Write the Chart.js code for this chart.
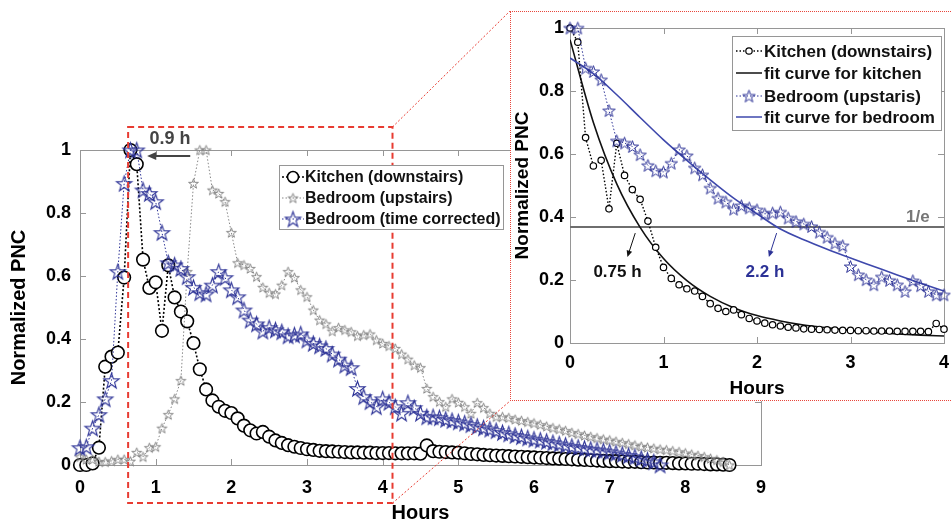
<!DOCTYPE html>
<html>
<head>
<meta charset="utf-8">
<script src="https://cdn.jsdelivr.net/npm/chart.js@4.4.1/dist/chart.umd.min.js"></script>
<style>
  html, body { margin: 0; padding: 0; background: #fff; }
  #wrap { position: relative; width: 951px; height: 523px; overflow: hidden; }
  #main { position: absolute; left: 0; top: 0; }
  #insetBox { position: absolute; left: 510px; top: 11px; width: 441px; height: 390px; box-sizing: border-box;
              background: #fff; border: 1px dotted #e8463c; border-right: none; }
  #inset { position: absolute; left: 0; top: 0; }
</style>
</head>
<body>
<div id="wrap">
  <canvas id="main" width="951" height="523"></canvas>
  <div id="insetBox"><canvas id="inset" width="440" height="388"></canvas></div>
</div>
<script>
// sampling: one value every 5 minutes
const SAMPLE_MIN = 5;
const SHIFT_STEPS = 11;       // bedroom lag, 0.9 h
const KITCHEN_PEAK_IDX = 8;   // inset starts at each peak
const BEDROOM_PEAK_IDX = 19;
const INSET_STEPS = 49;       // 0..4 h in the inset

const kitchenPNC = [
  0.000, 0.000, 0.005, 0.055, 0.312, 0.344, 0.357, 0.595, 1.000, 0.955,
  0.652, 0.562, 0.580, 0.426, 0.634, 0.532, 0.487, 0.456, 0.387, 0.304,
  0.240, 0.205, 0.185, 0.172, 0.165, 0.148, 0.125, 0.110, 0.100, 0.105,
  0.090, 0.078, 0.070, 0.063, 0.058, 0.054, 0.050, 0.048, 0.045, 0.044,
  0.043, 0.042, 0.041, 0.040, 0.040, 0.039, 0.039, 0.038, 0.038, 0.038,
  0.037, 0.037, 0.037, 0.037, 0.036, 0.062, 0.044, 0.042, 0.041, 0.040,
  0.039, 0.037, 0.035, 0.034, 0.032, 0.031, 0.030, 0.029, 0.028, 0.027,
  0.026, 0.025, 0.024, 0.023, 0.022, 0.021, 0.020, 0.019, 0.018, 0.017,
  0.016, 0.015, 0.014, 0.013, 0.012, 0.012, 0.011, 0.010, 0.010, 0.009,
  0.008, 0.008, 0.007, 0.007, 0.006, 0.005, 0.005, 0.004, 0.004, 0.003,
  0.002, 0.002, 0.001, 0.000
];
const bedroomPNC = [
  0.026, 0.018, 0.018, 0.011, 0.010, 0.013, 0.018, 0.018, 0.012, 0.040,
  0.026, 0.055, 0.058, 0.117, 0.160, 0.210, 0.268, 0.614, 0.894, 1.000,
  1.000, 0.873, 0.862, 0.836, 0.738, 0.642, 0.635, 0.624, 0.598, 0.564,
  0.547, 0.543, 0.571, 0.614, 0.595, 0.556, 0.534, 0.492, 0.460, 0.448,
  0.425, 0.436, 0.429, 0.423, 0.410, 0.413, 0.416, 0.397, 0.386, 0.378,
  0.370, 0.352, 0.336, 0.317, 0.309, 0.243, 0.217, 0.201, 0.185, 0.210,
  0.199, 0.185, 0.164, 0.198, 0.182, 0.164, 0.153, 0.153, 0.150, 0.145,
  0.141, 0.137, 0.133, 0.128, 0.123, 0.118, 0.114, 0.109, 0.103, 0.099,
  0.094, 0.090, 0.086, 0.082, 0.079, 0.075, 0.071, 0.067, 0.063, 0.059,
  0.056, 0.053, 0.050, 0.048, 0.045, 0.042, 0.038, 0.034, 0.030, 0.026,
  0.021, 0.016, 0.010, 0.000
];
// fitted decay curves
const fitHours = [0, 0.25, 0.5, 0.75, 1, 1.25, 1.5, 1.75, 2, 2.25, 2.5, 2.75, 3, 3.25, 3.5, 3.75, 4];
const kitchenFit = [0.963, 0.700, 0.505, 0.367, 0.268, 0.198, 0.148, 0.112, 0.087, 0.070, 0.057, 0.048, 0.040, 0.034, 0.029, 0.025, 0.022];
const bedroomFit = [0.905, 0.855, 0.788, 0.716, 0.645, 0.580, 0.518, 0.460, 0.410, 0.362, 0.328, 0.298, 0.270, 0.243, 0.216, 0.190, 0.165];
const mainXRange = [0, 9];
const insetXRange = [0, 4];
const yRange = [0, 1];

const BLUE = "rgb(44,50,150)";
const BLUE_FIT = "rgb(62,72,172)";
const GRAY = "rgb(135,135,135)";
const AXIS = "rgb(150,150,150)";
const RED = "rgb(232,60,50)";
const FONT = "'Liberation Sans', Arial, sans-serif";

const hr = (i) => (i * SAMPLE_MIN) / 60;
const toPts = (arr, start = 0) => arr.map((v, i) => ({ x: hr(i - start), y: v }));

const kitchenPts = toPts(kitchenPNC);
const bedroomPts = toPts(bedroomPNC);
const correctedPts = toPts(bedroomPNC.slice(SHIFT_STEPS));
const insetKitchen = toPts(kitchenPNC.slice(KITCHEN_PEAK_IDX, KITCHEN_PEAK_IDX + INSET_STEPS));
const insetBedroom = toPts(bedroomPNC.slice(BEDROOM_PEAK_IDX, BEDROOM_PEAK_IDX + INSET_STEPS));
const kitchenFitPts = fitHours.map((h, i) => ({ x: h, y: kitchenFit[i] }));
const bedroomFitPts = fitHours.map((h, i) => ({ x: h, y: bedroomFit[i] }));

function starImage(r, color, lw) {
  const size = Math.ceil(2 * r + 2 * lw + 2);
  const c = document.createElement("canvas");
  c.width = size;
  c.height = size;
  const g = c.getContext("2d");
  g.translate(size / 2, size / 2 + r * 0.1);
  g.beginPath();
  for (let k = 0; k < 10; k++) {
    const rr = k % 2 ? r * 0.4 : r;
    const a = -Math.PI / 2 + (k * Math.PI) / 5;
    g.lineTo(rr * Math.cos(a), rr * Math.sin(a));
  }
  g.closePath();
  g.strokeStyle = color;
  g.lineWidth = lw;
  g.stroke();
  return c;
}
const bigBlueStar = starImage(8, BLUE, 1.1);
const grayStar = starImage(5.2, GRAY, 1);
const insetStar = starImage(6.5, BLUE, 1);

function arrow(ctx, x1, y1, x2, y2, color, lw, head) {
  const a = Math.atan2(y2 - y1, x2 - x1);
  ctx.strokeStyle = color;
  ctx.fillStyle = color;
  ctx.lineWidth = lw;
  ctx.setLineDash([]);
  ctx.beginPath();
  ctx.moveTo(x1, y1);
  ctx.lineTo(x2 - head * 0.7 * Math.cos(a), y2 - head * 0.7 * Math.sin(a));
  ctx.stroke();
  ctx.beginPath();
  ctx.moveTo(x2, y2);
  ctx.lineTo(x2 - head * Math.cos(a - 0.42), y2 - head * Math.sin(a - 0.42));
  ctx.lineTo(x2 - head * Math.cos(a + 0.42), y2 - head * Math.sin(a + 0.42));
  ctx.closePath();
  ctx.fill();
}

// MATLAB style box with ticks pointing inward
const boxPlugin = {
  id: "box",
  beforeDatasetsDraw(chart) {
    const { ctx, chartArea: a, scales: { x, y } } = chart;
    ctx.save();
    ctx.strokeStyle = AXIS;
    ctx.lineWidth = 1;
    ctx.strokeRect(Math.round(a.left) + 0.5, Math.round(a.top) + 0.5, Math.round(a.right - a.left), Math.round(a.bottom - a.top));
    ctx.beginPath();
    x.ticks.forEach((t) => {
      const px = Math.round(x.getPixelForValue(t.value)) + 0.5;
      ctx.moveTo(px, a.bottom); ctx.lineTo(px, a.bottom - 6);
      ctx.moveTo(px, a.top); ctx.lineTo(px, a.top + 6);
    });
    y.ticks.forEach((t) => {
      const py = Math.round(y.getPixelForValue(t.value)) + 0.5;
      ctx.moveTo(a.left, py); ctx.lineTo(a.left + 6, py);
      ctx.moveTo(a.right, py); ctx.lineTo(a.right - 6, py);
    });
    ctx.stroke();
    ctx.restore();
  }
};

function drawLegend(ctx, box, rows, font) {
  ctx.save();
  ctx.fillStyle = "#fff";
  ctx.fillRect(box.x, box.y, box.w, box.h);
  ctx.strokeStyle = AXIS;
  ctx.lineWidth = 1;
  ctx.strokeRect(box.x + 0.5, box.y + 0.5, box.w, box.h);
  rows.forEach((r) => {
    ctx.strokeStyle = r.color;
    ctx.lineWidth = r.lw;
    ctx.setLineDash(r.dash);
    ctx.beginPath();
    ctx.moveTo(box.lineX0, r.y);
    ctx.lineTo(box.lineX1, r.y);
    ctx.stroke();
    ctx.setLineDash([]);
    const mx = (box.lineX0 + box.lineX1) / 2;
    if (r.circle) {
      ctx.fillStyle = "#fff";
      ctx.lineWidth = r.circle.lw;
      ctx.strokeStyle = r.color;
      ctx.beginPath();
      ctx.arc(mx, r.y, r.circle.r, 0, Math.PI * 2);
      ctx.fill();
      ctx.stroke();
    }
    if (r.img) ctx.drawImage(r.img, mx - r.img.width / 2, r.y - r.img.height / 2);
    ctx.fillStyle = "#111";
    ctx.font = font;
    ctx.textBaseline = "middle";
    ctx.textAlign = "left";
    ctx.fillText(r.text, box.textX, r.y + 1);
  });
  ctx.restore();
}

const mainDecor = {
  id: "mainDecor",
  afterDatasetsDraw(chart) {
    const { ctx, scales: { x, y } } = chart;
    ctx.save();
    // zoom rectangle
    const rx0 = x.getPixelForValue(0.636), rx1 = x.getPixelForValue(4.13);
    const ry0 = y.getPixelForValue(1.073), ry1 = y.getPixelForValue(-0.121);
    ctx.strokeStyle = RED;
    ctx.lineWidth = 2;
    ctx.setLineDash([6, 4]);
    ctx.strokeRect(rx0, ry0, rx1 - rx0, ry1 - ry0);
    ctx.lineWidth = 1;
    ctx.setLineDash([2, 2]);
    ctx.beginPath();
    ctx.moveTo(rx1, ry0); ctx.lineTo(510, 11);
    ctx.moveTo(rx1, ry1); ctx.lineTo(510, 401);
    ctx.stroke();
    // lag annotation
    arrow(ctx, x.getPixelForValue(1.457), y.getPixelForValue(0.981), x.getPixelForValue(0.887), y.getPixelForValue(0.981), "#444", 2, 10);
    ctx.fillStyle = "#444";
    ctx.font = "bold 18px " + FONT;
    ctx.textAlign = "center";
    ctx.textBaseline = "middle";
    ctx.fillText("0.9 h", x.getPixelForValue(1.19), y.getPixelForValue(1.035));
    ctx.restore();
    drawLegend(ctx, { x: 279, y: 165, w: 224, h: 64, lineX0: 282, lineX1: 304, textX: 305 }, [
      { y: 177, text: "Kitchen (downstairs)", color: "#000", lw: 1.5, dash: [2, 2], circle: { r: 5.5, lw: 1.6 } },
      { y: 198, text: "Bedroom (upstairs)", color: GRAY, lw: 1, dash: [1.5, 2], img: grayStar },
      { y: 219, text: "Bedroom (time corrected)", color: BLUE, lw: 1, dash: [1.5, 2], img: bigBlueStar }
    ], "bold 16px " + FONT);
  }
};

const insetDecor = {
  id: "insetDecor",
  afterDatasetsDraw(chart) {
    const { ctx, scales: { x, y } } = chart;
    ctx.save();
    ctx.font = "bold 17px " + FONT;
    ctx.textAlign = "center";
    ctx.textBaseline = "middle";
    ctx.fillStyle = "#777";
    ctx.fillText("1/e", x.getPixelForValue(3.72), y.getPixelForValue(0.4));
    ctx.fillStyle = "#111";
    ctx.fillText("0.75 h", x.getPixelForValue(0.508), y.getPixelForValue(0.225));
    ctx.fillStyle = BLUE;
    ctx.fillText("2.2 h", x.getPixelForValue(2.085), y.getPixelForValue(0.225));
    arrow(ctx, x.getPixelForValue(0.698), y.getPixelForValue(0.349), x.getPixelForValue(0.614), y.getPixelForValue(0.273), "#111", 1, 7);
    arrow(ctx, x.getPixelForValue(2.21), y.getPixelForValue(0.349), x.getPixelForValue(2.127), y.getPixelForValue(0.273), BLUE, 1, 7);
    ctx.restore();
    const ox = 511, oy = 12;
    drawLegend(ctx, { x: 732 - ox, y: 36 - oy, w: 209, h: 94, lineX0: 736 - ox, lineX1: 762 - ox, textX: 764 - ox }, [
      { y: 51 - oy, text: "Kitchen (downstairs)", color: "#000", lw: 1.3, dash: [1.5, 2], circle: { r: 3.2, lw: 1.2 } },
      { y: 73 - oy, text: "fit curve for kitchen", color: "#111", lw: 1.5, dash: [] },
      { y: 96 - oy, text: "Bedroom (upstaris)", color: BLUE, lw: 1, dash: [1.5, 2], img: insetStar },
      { y: 117 - oy, text: "fit curve for bedroom", color: BLUE_FIT, lw: 1.5, dash: [] }
    ], "bold 17px " + FONT);
  }
};

const tickLabel = (v) => String(+Number(v).toFixed(1));

function scales(o) {
  return {
    x: {
      type: "linear", min: o.xRange[0], max: o.xRange[1],
      ticks: { stepSize: 1, color: "#000", font: { family: FONT, size: 18, weight: "bold" }, padding: o.xPad, maxRotation: 0, callback: tickLabel },
      grid: { display: false, drawTicks: false }, border: { display: false },
      title: { display: true, text: "Hours", color: "#000", font: { family: FONT, size: o.titleSize, weight: "bold", lineHeight: 1 }, padding: { top: 0, bottom: o.xTitlePad } },
      afterFit(s) { s.height = o.xHeight; s.paddingLeft = 0; s.paddingRight = 0; }
    },
    y: {
      min: yRange[0], max: yRange[1],
      ticks: { stepSize: 0.2, color: "#000", font: { family: FONT, size: 18, weight: "bold" }, padding: o.yPad, callback: tickLabel },
      grid: { display: false, drawTicks: false }, border: { display: false },
      title: { display: true, text: "Normalized PNC", color: "#000", font: { family: FONT, size: o.titleSize, weight: "bold", lineHeight: 1 }, padding: { top: o.yTitlePad, bottom: 0 } },
      afterFit(s) { s.width = o.yWidth; s.paddingTop = 0; s.paddingBottom = 0; }
    }
  };
}

new Chart(document.getElementById("main"), {
  type: "line",
  data: {
    datasets: [
      { label: "Bedroom (time corrected)", data: correctedPts, borderColor: BLUE, borderWidth: 1, borderDash: [1.5, 2],
        pointStyle: bigBlueStar, pointRadius: 8, order: 1, clip: false },
      { label: "Bedroom (upstairs)", data: bedroomPts, borderColor: GRAY, borderWidth: 1, borderDash: [1.5, 2],
        pointStyle: grayStar, pointRadius: 5, order: 2, clip: false },
      { label: "Kitchen (downstairs)", data: kitchenPts, borderColor: "#000", borderWidth: 1.6, borderDash: [2, 2],
        pointStyle: "circle", pointRadius: 6.3, pointBorderWidth: 1.6, pointBackgroundColor: "#fff", pointBorderColor: "#000",
        order: 3, clip: false }
    ]
  },
  options: {
    responsive: false, animation: false, events: [],
    layout: { padding: { top: 150, right: 190, left: 0, bottom: 0 } },
    plugins: { legend: { display: false }, tooltip: { enabled: false } },
    scales: scales({ xRange: mainXRange, xPad: 12, yPad: 9, xHeight: 58, yWidth: 80, titleSize: 20, xTitlePad: 0, yTitlePad: 9 })
  },
  plugins: [boxPlugin, mainDecor]
});

new Chart(document.getElementById("inset"), {
  type: "line",
  data: {
    datasets: [
      { label: "Bedroom (upstaris)", data: insetBedroom, borderColor: BLUE, borderWidth: 1, borderDash: [1.5, 2],
        pointStyle: insetStar, pointRadius: 6, order: 1, clip: false },
      { label: "Kitchen (downstairs)", data: insetKitchen, borderColor: "#000", borderWidth: 1.4, borderDash: [1.5, 2],
        pointStyle: "circle", pointRadius: 3.2, pointBorderWidth: 1.2, pointBackgroundColor: "#fff", pointBorderColor: "#000",
        order: 2, clip: false },
      { label: "fit curve for bedroom", data: bedroomFitPts, borderColor: BLUE_FIT, borderWidth: 1.6, pointRadius: 0,
        tension: 0.4, cubicInterpolationMode: "monotone", order: 3 },
      { label: "fit curve for kitchen", data: kitchenFitPts, borderColor: "#111", borderWidth: 1.6, pointRadius: 0,
        tension: 0.4, cubicInterpolationMode: "monotone", order: 4 },
      { label: "1/e", data: [{ x: 0, y: 1 / Math.E }, { x: 4, y: 1 / Math.E }], borderColor: "#6e6e6e", borderWidth: 2,
        pointRadius: 0, order: 5 }
    ]
  },
  options: {
    responsive: false, animation: false, events: [],
    layout: { padding: { top: 16, right: 3, left: 0, bottom: 0 } },
    plugins: { legend: { display: false }, tooltip: { enabled: false } },
    scales: scales({ xRange: insetXRange, xPad: 9, yPad: 6, xHeight: 57, yWidth: 59, titleSize: 19, xTitlePad: 2, yTitlePad: 2 })
  },
  plugins: [boxPlugin, insetDecor]
});
</script>
</body>
</html>
